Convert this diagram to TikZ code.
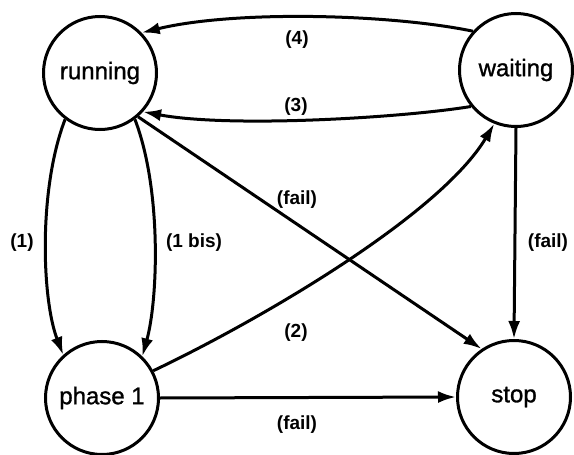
\documentclass[tikz,border=0pt]{standalone}
\usepackage{fontspec}
\setmainfont{Liberation Sans}
\newfontfamily\nodefont[FakeBold=1.2]{Liberation Sans}
\usetikzlibrary{arrows.meta}
\begin{document}
\begin{tikzpicture}[x=1pt,y=-1pt,
  state/.style={circle,draw,line width=3pt,minimum size=113pt,inner sep=0pt,
    font=\nodefont\fontsize{24}{24}\selectfont},
  lbl/.style={font=\fontsize{19}{19}\selectfont\bfseries,inner sep=0pt},
  edge/.style={line width=3pt,-{Latex[length=18pt,width=12pt]}}]
\useasboundingbox (0,0) rectangle (574,455);
\node[state] (r) at (100,73) {running};
\node[state] (w) at (516,70) {waiting};
\node[state] (p) at (102,398) {phase 1};
\node[state] (s) at (514,397) {stop};
% edges
\draw[edge] (w.138) .. controls (390,14) and (235,10) .. (r.44);
\draw[edge] (w.219) .. controls (400,118) and (230,128) .. (r.318);
\draw[edge] (r.311) -- (s.124);
\draw[edge] (p.28) .. controls (260,320) and (440,215) .. (w.248);
\draw[edge] (r.233) .. controls (38,190) and (42,300) .. (p.132);
\draw[edge] (r.307) .. controls (162,190) and (158,300) .. (p.46);
\draw[edge] (p.east) -- (s.west);
\draw[edge] (w.south) -- (s.north);
% labels
\node[lbl] (l4) at (297,40) {(4)};
\node[lbl] (l3) at (296,107) {(3)};
\node[lbl] (lf1) at (297,200) {(fail)};
\node[lbl] (l2) at (296,333) {(2)};
\node[lbl] (l1) at (22,243) {(1)};
\node[lbl] (l1b) at (194,243) {(1 bis)};
\node[lbl] (lf2) at (297,425) {(fail)};
\node[lbl] (lf3) at (548,243) {(fail)};
\end{tikzpicture}
\end{document}
